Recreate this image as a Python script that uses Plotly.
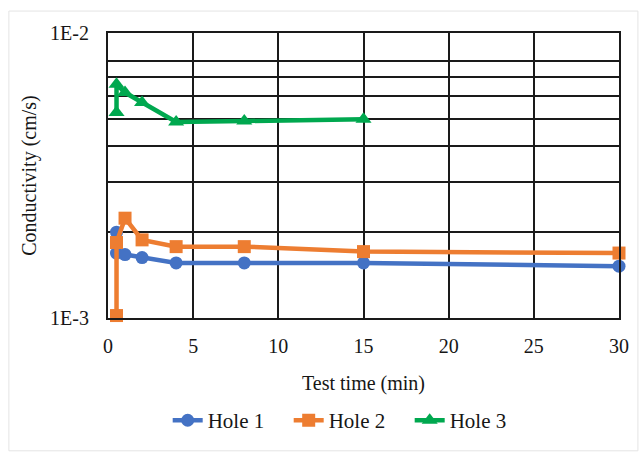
import plotly.graph_objects as go

# Test times (min) and measured hydraulic conductivity (cm/s) per hole
hole1_t = [0.5, 0.5, 1, 2, 4, 8, 15, 30]
hole1_k = [2.0e-3, 1.69e-3, 1.67e-3, 1.63e-3, 1.56e-3, 1.56e-3, 1.56e-3, 1.52e-3]

hole2_t = [0.5, 0.5, 1, 2, 4, 8, 15, 30]
hole2_k = [1.02e-3, 1.84e-3, 2.24e-3, 1.88e-3, 1.78e-3, 1.78e-3, 1.71e-3, 1.69e-3]

hole3_t = [0.5, 0.5, 1, 2, 4, 8, 15]
hole3_k = [5.26e-3, 6.61e-3, 6.18e-3, 5.70e-3, 4.87e-3, 4.91e-3, 4.98e-3]

series_names = ["Hole 1", "Hole 2", "Hole 3"]

# Log-axis gridline positions and labels
y_grid = [1e-3, 2e-3, 3e-3, 4e-3, 5e-3, 6e-3, 7e-3, 8e-3, 1e-2]
y_labels = ["1E-3", "", "", "", "", "", "", "", "1E-2"]
x_ticks = [0, 5, 10, 15, 20, 25, 30]

FONT = "Liberation Serif"
TEXT = "#161616"
GRID = "#1a1a1a"

fig = go.Figure()
styles = [
    (hole1_t, hole1_k, "#4472C4", "circle", 13),
    (hole2_t, hole2_k, "#ED7D31", "square", 13),
    (hole3_t, hole3_k, "#00A84F", "triangle-up", 14),
]
for name, (t, k, color, symbol, size) in zip(series_names, styles):
    fig.add_trace(go.Scatter(
        x=t, y=k, name=name, mode="lines+markers",
        line=dict(color=color, width=4.5),
        marker=dict(color=color, symbol=symbol, size=size, line=dict(width=0)),
        cliponaxis=False,
    ))

fig.update_xaxes(
    range=[0, 30], tickvals=x_ticks, showgrid=True, gridcolor=GRID, gridwidth=1.8,
    showline=True, linecolor=GRID, linewidth=2, mirror=True, zeroline=False,
    ticks="", ticklabelstandoff=9,
    tickfont=dict(family=FONT, size=20, color=TEXT),
    title=dict(text="Test time (min)", font=dict(family=FONT, size=20, color=TEXT), standoff=20),
)
fig.update_yaxes(
    type="log", range=[-3, -2], tickvals=y_grid, ticktext=y_labels,
    showgrid=True, gridcolor=GRID, gridwidth=1.8,
    showline=True, linecolor=GRID, linewidth=2, mirror=True, zeroline=False,
    ticks="", ticklabelstandoff=13,
    tickfont=dict(family=FONT, size=20, color=TEXT),
    title=dict(text="Conductivity (cm/s)", font=dict(family=FONT, size=20, color=TEXT), standoff=8),
)

fig.update_layout(
    width=640, height=453,
    margin=dict(l=108, r=21, t=33, b=135),
    paper_bgcolor="white", plot_bgcolor="white",
    showlegend=True,
    legend=dict(
        orientation="h", x=0.472, xanchor="center", y=-0.36, yanchor="middle",
        font=dict(family=FONT, size=21, color=TEXT),
        itemwidth=30, tracegroupgap=0,
        entrywidth=76, entrywidthmode="pixels",
    ),
    shapes=[dict(
        type="rect", xref="paper", yref="paper",
        x0=-0.194, x1=1.037, y0=-0.466, y1=1.077,
        line=dict(color="#e4e4e4", width=1), fillcolor="rgba(0,0,0,0)", layer="below",
    )],
)

fig.write_html("out.html")
